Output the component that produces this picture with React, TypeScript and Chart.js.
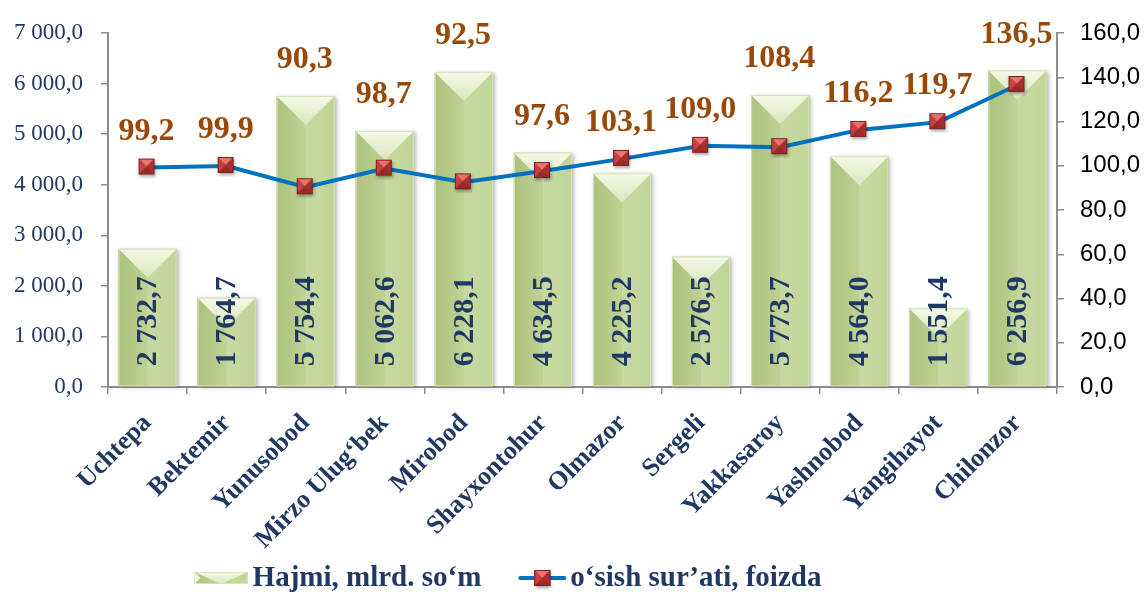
import React, { useEffect, useRef } from 'react';
import { Chart, registerables } from 'chart.js';

Chart.register(...registerables);

const categories = [
  'Uchtepa', 'Bektemir', 'Yunusobod', 'Mirzo Ulug‘bek', 'Mirobod', 'Shayxontohur',
  'Olmazor', 'Sergeli', 'Yakkasaroy', 'Yashnobod', 'Yangihayot', 'Chilonzor',
];
const volumeValues = [2732.7, 1764.7, 5754.4, 5062.6, 6228.1, 4634.5, 4225.2, 2576.5, 5773.7, 4564.0, 1551.4, 6256.9];
const growthValues = [99.2, 99.9, 90.3, 98.7, 92.5, 97.6, 103.1, 109.0, 108.4, 116.2, 119.7, 136.5];
const volumeLabel = 'Hajmi, mlrd. so‘m';
const growthLabel = 'o‘sish sur’ati, foizda';
const leftAxisMax = 7000;
const leftAxisStep = 1000;
const rightAxisMax = 160;
const rightAxisStep = 20;

const SERIF = '"Liberation Serif", "Times New Roman", serif';
const NAVY = '#1f3864';
const BROWN = '#984807';
const BLUE = '#0070c0';

function fmtNum(v: number): string {
  const [i, d] = v.toFixed(1).split('.');
  return i.replace(/\B(?=(\d{3})+(?!\d))/g, ' ') + ',' + d;
}

function drawBevelBar(ctx: CanvasRenderingContext2D, l: number, t: number, w: number, h: number, shadow = true) {
  const cx = l + w / 2;
  const d = Math.min(w / 2, h);
  ctx.save();
  if (shadow) {
    ctx.shadowColor = 'rgba(0,0,0,0.28)';
    ctx.shadowBlur = 4;
    ctx.shadowOffsetX = 2;
    ctx.shadowOffsetY = 1;
  }
  ctx.fillStyle = '#c3d69b';
  ctx.fillRect(l, t, w, h);
  ctx.restore();
  ctx.save();
  let g = ctx.createLinearGradient(l, 0, cx, 0);
  g.addColorStop(0, '#acc17b');
  g.addColorStop(1, '#bed295');
  ctx.fillStyle = g;
  ctx.beginPath();
  ctx.moveTo(l, t);
  ctx.lineTo(cx, t + d);
  ctx.lineTo(cx, t + h);
  ctx.lineTo(l, t + h);
  ctx.closePath();
  ctx.fill();
  g = ctx.createLinearGradient(cx, 0, l + w, 0);
  g.addColorStop(0, '#c6d9a0');
  g.addColorStop(1, '#c1d598');
  ctx.fillStyle = g;
  ctx.beginPath();
  ctx.moveTo(l + w, t);
  ctx.lineTo(cx, t + d);
  ctx.lineTo(cx, t + h);
  ctx.lineTo(l + w, t + h);
  ctx.closePath();
  ctx.fill();
  g = ctx.createLinearGradient(0, t, 0, t + d);
  g.addColorStop(0, '#f5f9e8');
  g.addColorStop(1, '#dae6bc');
  ctx.fillStyle = g;
  ctx.beginPath();
  ctx.moveTo(l, t);
  ctx.lineTo(l + w, t);
  ctx.lineTo(cx, t + d);
  ctx.closePath();
  ctx.fill();
  ctx.strokeStyle = 'rgba(215,228,188,0.95)';
  ctx.lineWidth = 1;
  ctx.strokeRect(l + 0.5, t + 0.5, w - 1, h - 1);
  ctx.restore();
}

function drawMarker(ctx: CanvasRenderingContext2D, x: number, y: number, s: number) {
  const l = x - s / 2, t = y - s / 2, r = x + s / 2, b = y + s / 2;
  const tri = (pts: number[][], c: string) => {
    ctx.fillStyle = c;
    ctx.beginPath();
    ctx.moveTo(pts[0][0], pts[0][1]);
    for (let k = 1; k < pts.length; k++) ctx.lineTo(pts[k][0], pts[k][1]);
    ctx.closePath();
    ctx.fill();
  };
  ctx.save();
  ctx.shadowColor = 'rgba(0,0,0,0.35)';
  ctx.shadowBlur = 3;
  ctx.shadowOffsetX = 1;
  ctx.shadowOffsetY = 2;
  ctx.fillStyle = '#b03a37';
  ctx.fillRect(l, t, s, s);
  ctx.restore();
  tri([[l, t], [r, t], [x, y]], '#ea7370');
  tri([[l, t], [l, b], [x, y]], '#c4423f');
  tri([[r, t], [r, b], [x, y]], '#a8302d');
  tri([[l, b], [r, b], [x, y]], '#962b29');
  ctx.strokeStyle = '#7c2220';
  ctx.lineWidth = 1;
  ctx.strokeRect(l + 0.5, t + 0.5, s - 1, s - 1);
}

function makeMarkerCanvas(): HTMLCanvasElement {
  const c = document.createElement('canvas');
  c.width = 22;
  c.height = 22;
  const ctx = c.getContext('2d')!;
  drawMarker(ctx, 10, 10, 16);
  return c;
}

const bevelPlugin = {
  id: 'bevelBars',
  afterDatasetDraw(chart: any, args: any) {
    if (args.meta.type !== 'bar') return;
    const ctx = chart.ctx;
    args.meta.data.forEach((el: any) => {
      const { x, y, base, width } = el.getProps(['x', 'y', 'base', 'width'], true);
      drawBevelBar(ctx, x - width / 2, y, width, base - y);
    });
  },
};

const labelsPlugin = {
  id: 'valueLabels',
  afterDatasetsDraw(chart: any) {
    const ctx = chart.ctx;
    const barMeta = chart.getDatasetMeta(0);
    const lineMeta = chart.getDatasetMeta(1);
    const barData = chart.data.datasets[0].data as number[];
    const lineData = chart.data.datasets[1].data as number[];
    ctx.save();
    ctx.font = `bold 30px ${SERIF}`;
    ctx.fillStyle = NAVY;
    ctx.textAlign = 'left';
    ctx.textBaseline = 'middle';
    barMeta.data.forEach((el: any, i: number) => {
      const { x, base } = el.getProps(['x', 'base'], true);
      ctx.save();
      ctx.translate(x + 1, base - 20);
      ctx.rotate(-Math.PI / 2);
      ctx.fillText(fmtNum(barData[i]), 0, 0);
      ctx.restore();
    });
    ctx.font = `bold 32px ${SERIF}`;
    ctx.fillStyle = BROWN;
    ctx.textAlign = 'center';
    lineMeta.data.forEach((pt: any, i: number) => {
      const barTop = barMeta.data[i].y;
      const y = Math.min(pt.y, barTop) - 36;
      ctx.fillText(fmtNum(lineData[i]), pt.x - 1, y);
    });
    ctx.restore();
  },
};

const legendPlugin = {
  id: 'customLegend',
  afterDraw(chart: any) {
    const ctx = chart.ctx;
    const y = 578;
    ctx.save();
    ctx.font = `bold 29px ${SERIF}`;
    const t1 = chart.data.datasets[0].label;
    const t2 = chart.data.datasets[1].label;
    const w1 = ctx.measureText(t1).width;
    const w2 = ctx.measureText(t2).width;
    const icon1 = 53, gap1 = 5, between = 37, icon2 = 48, gap2 = 4;
    const total = icon1 + gap1 + w1 + between + icon2 + gap2 + w2;
    let x = 508 - total / 2;
    drawBevelBar(ctx, x, y - 6, icon1, 12, false);
    ctx.save();
    ctx.fillStyle = 'rgba(245,249,232,0.9)';
    ctx.beginPath();
    ctx.moveTo(x, y - 6);
    ctx.lineTo(x + 6, y);
    ctx.lineTo(x, y + 6);
    ctx.closePath();
    ctx.fill();
    ctx.restore();
    x += icon1 + gap1;
    ctx.fillStyle = NAVY;
    ctx.textAlign = 'left';
    ctx.textBaseline = 'middle';
    ctx.fillText(t1, x, y + 1);
    x += w1 + between;
    ctx.strokeStyle = BLUE;
    ctx.lineWidth = 4;
    ctx.lineCap = 'round';
    ctx.beginPath();
    ctx.moveTo(x + 2, y);
    ctx.lineTo(x + icon2 - 2, y);
    ctx.stroke();
    drawMarker(ctx, x + icon2 / 2, y, 16);
    x += icon2 + gap2;
    ctx.fillStyle = NAVY;
    ctx.fillText(t2, x, y + 1);
    ctx.restore();
  },
};

export default function App() {
  const ref = useRef<HTMLCanvasElement | null>(null);

  useEffect(() => {
    if (!ref.current) return;
    const marker = makeMarkerCanvas();
    const axisColor = '#8c8c8c';
    const chart = new Chart(ref.current, {
      type: 'bar',
      data: {
        labels: categories,
        datasets: [
          {
            type: 'bar',
            label: volumeLabel,
            data: volumeValues,
            backgroundColor: '#c3d69b',
            borderWidth: 0,
            yAxisID: 'y',
            order: 2,
            categoryPercentage: 1,
            barPercentage: 0.735,
          },
          {
            type: 'line',
            label: growthLabel,
            data: growthValues,
            borderColor: BLUE,
            borderWidth: 4,
            tension: 0,
            pointStyle: marker as any,
            pointRadius: 8,
            yAxisID: 'y1',
            order: 1,
          } as any,
        ],
      },
      options: {
        animation: false,
        responsive: true,
        maintainAspectRatio: false,
        layout: { padding: { top: 33, left: 0, right: 0, bottom: 0 } },
        plugins: {
          legend: { display: false },
          tooltip: { enabled: false },
        },
        scales: {
          x: {
            grid: {
              display: true,
              drawOnChartArea: false,
              drawTicks: true,
              tickLength: 7,
              color: axisColor,
              lineWidth: 1.5,
              offset: true,
            },
            border: { display: true, color: axisColor, width: 2 },
            ticks: {
              autoSkip: false,
              minRotation: 45,
              maxRotation: 45,
              padding: 14,
              color: NAVY,
              font: { family: SERIF, size: 26, weight: 'bold' },
            },
            afterFit: (s: any) => { s.height = 205; },
          },
          y: {
            position: 'left',
            min: 0,
            max: leftAxisMax,
            grid: {
              display: true,
              drawOnChartArea: false,
              drawTicks: true,
              tickLength: 7,
              color: axisColor,
              lineWidth: 1.5,
            },
            border: { display: true, color: axisColor, width: 2 },
            ticks: {
              stepSize: leftAxisStep,
              padding: 18,
              color: NAVY,
              font: { family: SERIF, size: 23 },
              callback: (v: any) => fmtNum(Number(v)),
            },
            afterFit: (s: any) => { s.width = 108; },
          },
          y1: {
            position: 'right',
            min: 0,
            max: rightAxisMax,
            grid: {
              display: true,
              drawOnChartArea: false,
              drawTicks: true,
              tickLength: 7,
              color: axisColor,
              lineWidth: 1.5,
            },
            border: { display: true, color: axisColor, width: 2 },
            ticks: {
              stepSize: rightAxisStep,
              padding: 16,
              color: '#000000',
              font: { family: '"Liberation Sans", Arial, sans-serif', size: 24 },
              callback: (v: any) => fmtNum(Number(v)),
            },
            afterFit: (s: any) => { s.width = 87; },
          },
        },
      } as any,
      plugins: [bevelPlugin, labelsPlugin, legendPlugin],
    });
    return () => chart.destroy();
  }, []);

  return (
    <div style={{ position: 'fixed', left: 0, top: 0, width: 1144, height: 592, background: '#ffffff' }}>
      <canvas ref={ref} />
    </div>
  );
}
